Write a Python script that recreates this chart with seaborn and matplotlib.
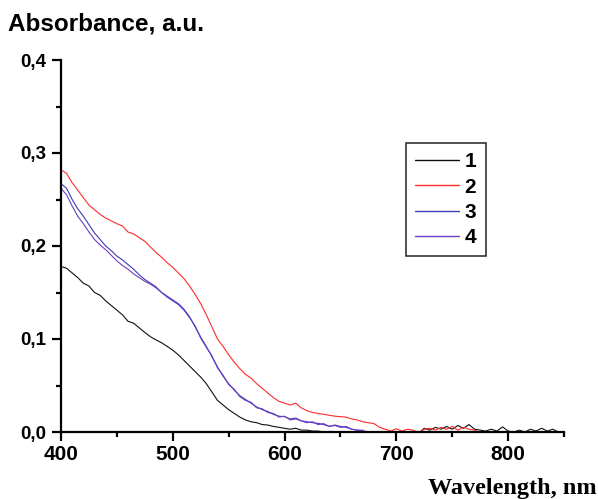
import numpy as np
import pandas as pd
import matplotlib
matplotlib.use("Agg")
import matplotlib.pyplot as plt
from matplotlib.ticker import AutoMinorLocator, FuncFormatter, MultipleLocator
import seaborn as sns

# wavelength grids (nm)
wl_full = list(range(400, 851, 5))
wl_short = list(range(400, 676, 5))

# 1 - black
abs_1 = [0.178, 0.176, 0.171, 0.166, 0.160, 0.157, 0.150, 0.147, 0.141, 0.136,
         0.131, 0.126, 0.119, 0.117, 0.112, 0.107, 0.1025, 0.099, 0.096, 0.092,
         0.088, 0.083, 0.077, 0.071, 0.065, 0.059, 0.052, 0.043, 0.034, 0.029,
         0.024, 0.020, 0.016, 0.013, 0.011, 0.010, 0.008, 0.0075, 0.006, 0.005,
         0.004, 0.003, 0.004, 0.002, 0.002, 0.001, 0.001, 0.0, 0.0005, -0.001,
         0.0, -0.001, -0.002, -0.001, -0.002, -0.001, -0.002, -0.001, -0.002, -0.001,
         -0.002, -0.001, -0.002, -0.001, -0.001, 0.004, 0.002, 0.005, 0.003, 0.006,
         0.003, 0.007, 0.004, 0.008, 0.003, 0.002, 0.001, 0.003, 0.001, 0.0055,
         0.001, 0.0, 0.002, 0.0, 0.003, 0.001, 0.004, 0.001, 0.003, 0.0, 0.0]

# 2 - red
abs_2 = [0.282, 0.278, 0.268, 0.260, 0.252, 0.244, 0.239, 0.234, 0.230, 0.227,
         0.224, 0.2215, 0.215, 0.213, 0.209, 0.205, 0.199, 0.193, 0.188, 0.182,
         0.177, 0.171, 0.165, 0.157, 0.148, 0.138, 0.126, 0.113, 0.100, 0.092,
         0.083, 0.075, 0.068, 0.062, 0.058, 0.052, 0.047, 0.042, 0.037, 0.033,
         0.031, 0.029, 0.031, 0.026, 0.023, 0.021, 0.020, 0.019, 0.018, 0.017,
         0.0165, 0.016, 0.014, 0.013, 0.011, 0.010, 0.009, 0.005, 0.003, 0.001,
         0.0035, 0.001, 0.003, 0.002, -0.001, 0.003, 0.004, 0.002, 0.005, 0.003,
         0.006, 0.002, 0.005, 0.003, 0.002, -0.001, -0.002, -0.002, -0.002, -0.002,
         -0.002, -0.002, -0.002, -0.002, -0.002, -0.002, -0.002, -0.002, -0.002, -0.002, -0.002]

# 3 - blue
abs_3 = [0.267, 0.262, 0.250, 0.240, 0.232, 0.223, 0.214, 0.207, 0.200, 0.195,
         0.189, 0.185, 0.180, 0.175, 0.169, 0.164, 0.160, 0.156, 0.150, 0.146,
         0.142, 0.138, 0.132, 0.124, 0.113, 0.102, 0.092, 0.081, 0.070, 0.060,
         0.052, 0.045, 0.039, 0.035, 0.031, 0.027, 0.024, 0.022, 0.019, 0.017,
         0.0165, 0.014, 0.015, 0.012, 0.011, 0.010, 0.0093, 0.008, 0.006, 0.0075,
         0.006, 0.005, 0.003, 0.002, 0.001, -0.001]

# 4 - purple
abs_4 = [0.262, 0.255, 0.243, 0.232, 0.224, 0.215, 0.207, 0.201, 0.196, 0.190,
         0.184, 0.179, 0.175, 0.170, 0.166, 0.162, 0.159, 0.155, 0.150, 0.145,
         0.141, 0.137, 0.131, 0.123, 0.114, 0.101, 0.091, 0.082, 0.069, 0.061,
         0.051, 0.046, 0.038, 0.034, 0.032, 0.026, 0.025, 0.021, 0.020, 0.016,
         0.017, 0.013, 0.014, 0.012, 0.010, 0.011, 0.008, 0.009, 0.006, 0.007,
         0.005, 0.006, 0.003, 0.002, 0.002, -0.001]

labels = ["1", "2", "3", "4"]
colors = {"1": "#111111", "2": "#ff2b2b", "3": "#3c3cb4", "4": "#6e3cc4"}


def build_frame():
    parts = []
    for lab, wl, ab in zip(labels, [wl_full, wl_full, wl_short, wl_short],
                           [abs_1, abs_2, abs_3, abs_4]):
        parts.append(pd.DataFrame({"wl": wl, "abs": ab, "sample": lab}))
    return pd.concat(parts, ignore_index=True)


df = build_frame()

sns.set_style("ticks")
plt.rcParams["font.family"] = ["Liberation Sans", "DejaVu Sans"]
plt.rcParams["font.weight"] = "bold"
plt.rcParams["text.color"] = "black"
plt.rcParams["xtick.color"] = "black"
plt.rcParams["ytick.color"] = "black"
plt.rcParams["xtick.labelcolor"] = "black"
plt.rcParams["ytick.labelcolor"] = "black"

fig = plt.figure(figsize=(5.98, 4.99), dpi=100)
ax = fig.add_axes([61 / 598, 67 / 499, 503 / 598, 372 / 499])

sns.lineplot(data=df, x="wl", y="abs", hue="sample", palette=colors,
             estimator=None, sort=False, linewidth=0.8, ax=ax)

ax.set_xlim(400, 850)
ax.set_ylim(0, 0.4)
ax.xaxis.set_major_locator(MultipleLocator(100))
ax.yaxis.set_major_locator(MultipleLocator(0.1))
ax.xaxis.set_minor_locator(AutoMinorLocator(2))
ax.yaxis.set_minor_locator(AutoMinorLocator(2))
ax.yaxis.set_major_formatter(FuncFormatter(lambda v, p: f"{v:.1f}".replace(".", ",")))

for s in ["top", "right"]:
    ax.spines[s].set_visible(False)
for s in ["left", "bottom"]:
    ax.spines[s].set_linewidth(1.6)
    ax.spines[s].set_color("black")

ax.tick_params(axis="both", which="major", direction="out", length=6.5, width=1.6, color="black")
ax.tick_params(axis="both", which="minor", direction="out", length=3.5, width=1.6, color="black")
ax.tick_params(axis="x", labelsize=15, pad=3)
ax.tick_params(axis="y", labelsize=13.5, pad=4)
ax.set_xlabel("")
ax.set_ylabel("")

leg = ax.legend(loc="upper left", bbox_to_anchor=(0.686, 0.777), borderaxespad=0,
                frameon=True, fancybox=False, handlelength=2.1, handletextpad=0.25,
                labelspacing=0.3, borderpad=0.45, prop={"size": 15, "weight": "bold"})
leg.get_frame().set_edgecolor("black")
leg.get_frame().set_linewidth(1.2)
for line in leg.get_lines():
    line.set_linewidth(1.0)

fig.text(8 / 598, 1 - 31 / 499, "Absorbance, a.u.", fontsize=17.5, fontweight="bold",
         va="baseline", ha="left")
fig.text(597 / 598, 1 - 494 / 499, "Wavelength, nm", fontsize=17.5, fontweight="bold",
         family=["Liberation Serif", "DejaVu Serif"], va="baseline", ha="right")

fig.savefig("out.png", dpi=100)
